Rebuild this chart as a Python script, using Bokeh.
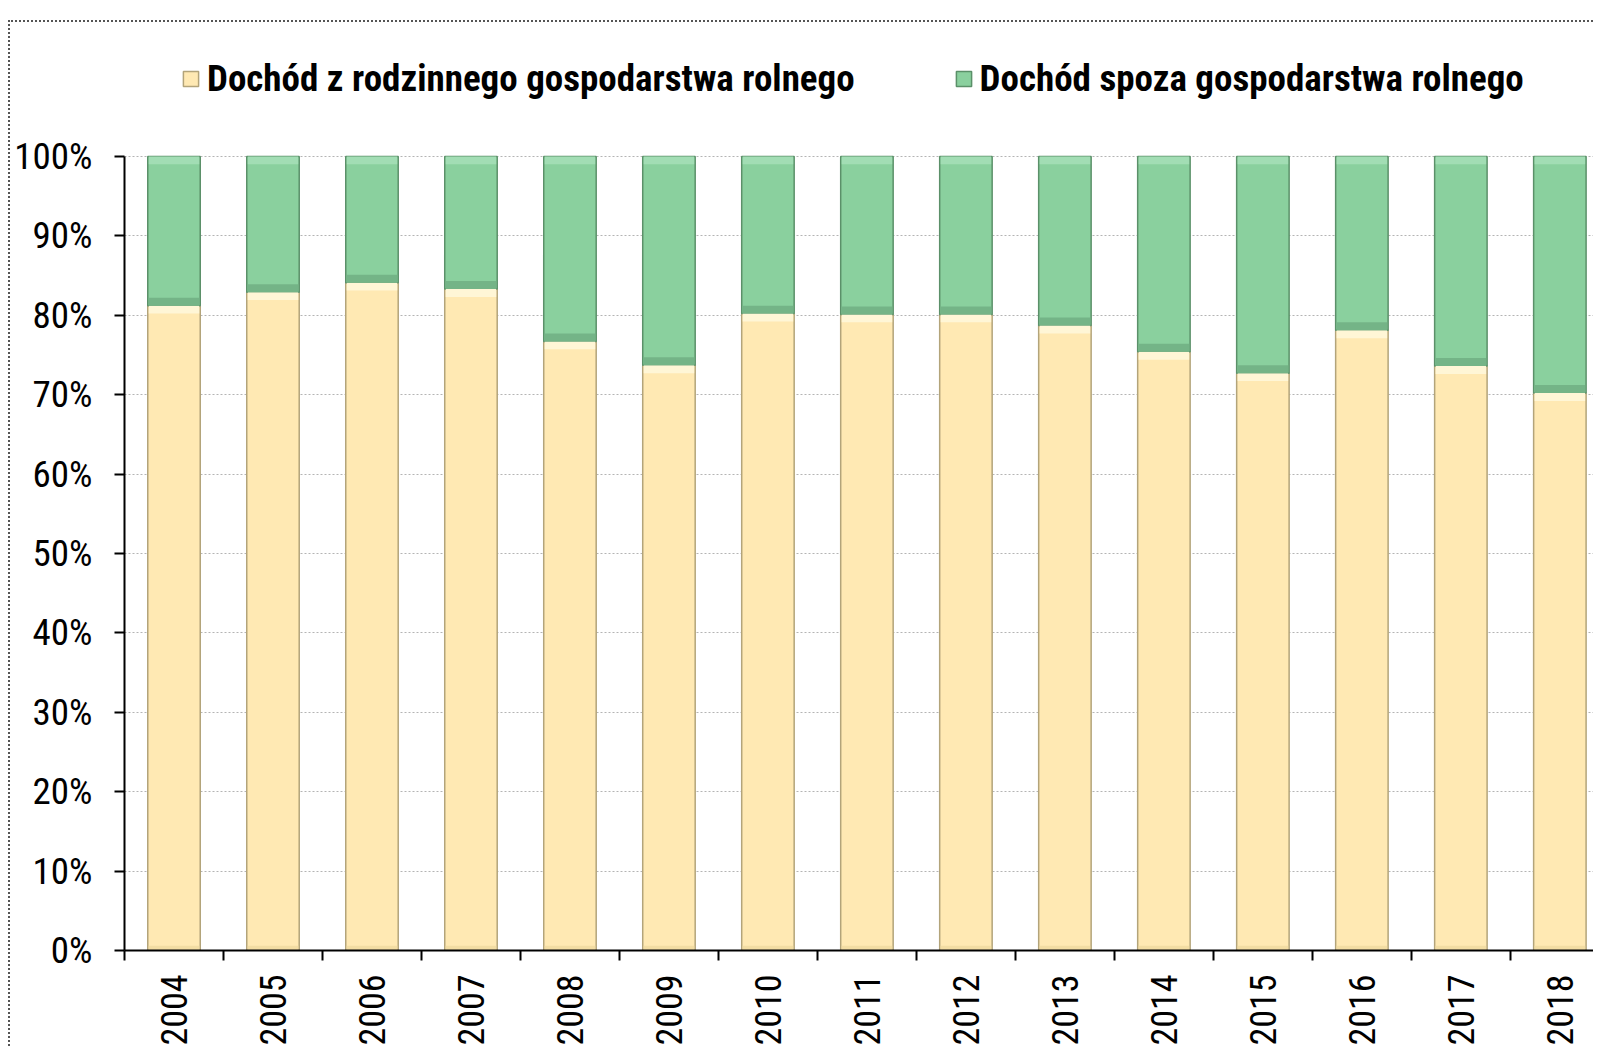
import math
from bokeh.plotting import figure
from bokeh.models import (ColumnDataSource, Range1d, FixedTicker, PrintfTickFormatter,
                          Legend, LegendItem)
from bokeh.embed import file_html
from bokeh.resources import INLINE

years = ["2004", "2005", "2006", "2007", "2008", "2009", "2010", "2011",
         "2012", "2013", "2014", "2015", "2016", "2017", "2018"]
farm = [81.2, 82.9, 84.1, 83.3, 76.7, 73.7, 80.2, 80.1, 80.1, 78.7, 75.4, 72.7, 78.1, 73.6, 70.2]
off_farm = [round(100 - v, 1) for v in farm]
series_names = ["Dochód z rodzinnego gospodarstwa rolnego", "Dochód spoza gospodarstwa rolnego"]
y_ticks = [0, 10, 20, 30, 40, 50, 60, 70, 80, 90, 100]

FONT = "Roboto Condensed, DejaVu Sans Condensed, Liberation Sans Narrow, Liberation Sans"
BEVEL = 1.0  # bevel band thickness, in percent units

xs = [i + 0.5 for i in range(len(years))]
totals = [f + o for f, o in zip(farm, off_farm)]
src = ColumnDataSource(dict(
    x=xs, farm=farm, off=off_farm,
    farm_top_lo=[f - BEVEL for f in farm], farm_top_hi=farm,
    farm_bot_lo=[0] * len(farm), farm_bot_hi=[BEVEL * 0.6] * len(farm),
    off_top_lo=[t - BEVEL for t in totals], off_top_hi=totals,
    off_bot_lo=farm, off_bot_hi=[f + BEVEL for f in farm],
))

p = figure(width=1585, height=1026, output_backend="svg", toolbar_location=None,
           x_range=Range1d(0, 14.86), y_range=Range1d(0, 116.86),
           min_border_left=114, min_border_right=0, min_border_top=0, min_border_bottom=97)
p.margin = (20, 0, 0, 8)
p.styles = {"border-top": "2px dotted #555", "border-left": "2px dotted #555"}
p.outline_line_color = None
p.background_fill_color = "white"

BW = 0.53
rs = p.vbar_stack(["farm", "off"], x="x", width=BW, source=src,
                  fill_color=["#FFE9B3", "#8AD09E"],
                  line_color=["#B3A47A", "#5B9069"], line_width=1.5)

# bevel shading bands
p.vbar(x="x", bottom="farm_top_lo", top="farm_top_hi", width=BW - 0.02, source=src,
       fill_color="#FFF6D6", line_color=None)
p.vbar(x="x", bottom="farm_bot_lo", top="farm_bot_hi", width=BW - 0.02, source=src,
       fill_color="#F3DDA3", line_color=None)
p.vbar(x="x", bottom="off_top_lo", top="off_top_hi", width=BW - 0.02, source=src,
       fill_color="#A2DDB4", line_color=None)
p.vbar(x="x", bottom="off_bot_lo", top="off_bot_hi", width=BW - 0.02, source=src,
       fill_color="#74B487", line_color=None)

# axes
p.xaxis.ticker = FixedTicker(ticks=xs, minor_ticks=list(range(len(years) + 1)))
p.xaxis.major_label_overrides = {x: y for x, y in zip(xs, years)}
p.xaxis.major_label_orientation = math.pi / 2
p.xaxis.major_tick_out = 0
p.xaxis.major_tick_in = 0
p.xaxis.minor_tick_out = 10
p.xaxis.minor_tick_in = 0
p.xaxis.minor_tick_line_color = "black"
p.xaxis.minor_tick_line_width = 2
p.xaxis.axis_line_color = "black"
p.xaxis.axis_line_width = 2
p.xaxis.major_label_standoff = 14
p.xaxis.major_label_text_font = FONT
p.xaxis.major_label_text_font_size = "36px"
p.xaxis.major_label_text_color = "black"

p.yaxis.ticker = FixedTicker(ticks=y_ticks, minor_ticks=[])
p.yaxis.bounds = (0, 100)
p.yaxis.formatter = PrintfTickFormatter(format="%d%%")
p.yaxis.major_tick_out = 10
p.yaxis.major_tick_in = 0
p.yaxis.major_tick_line_width = 2
p.yaxis.major_tick_line_color = "black"
p.yaxis.axis_line_color = "black"
p.yaxis.axis_line_width = 2
p.yaxis.major_label_standoff = 22
p.yaxis.major_label_text_font = FONT
p.yaxis.major_label_text_font_size = "37px"
p.yaxis.major_label_text_color = "black"

p.xgrid.grid_line_color = None
p.ygrid.grid_line_color = "#b4b4b4"
p.ygrid.grid_line_dash = "2 2"
p.ygrid.grid_line_width = 1

legend = Legend(items=[LegendItem(label=series_names[0], renderers=[rs[0]]),
                       LegendItem(label=series_names[1], renderers=[rs[1]])],
                location=(57, 850), orientation="horizontal",
                glyph_width=19, glyph_height=19, label_standoff=7, spacing=99,
                padding=0, margin=0, border_line_color=None, background_fill_alpha=0,
                label_text_font=FONT, label_text_font_style="bold",
                label_text_font_size="37px", label_text_color="black")
p.add_layout(legend, "center")

open("out.html", "w").write(file_html(p, INLINE))
